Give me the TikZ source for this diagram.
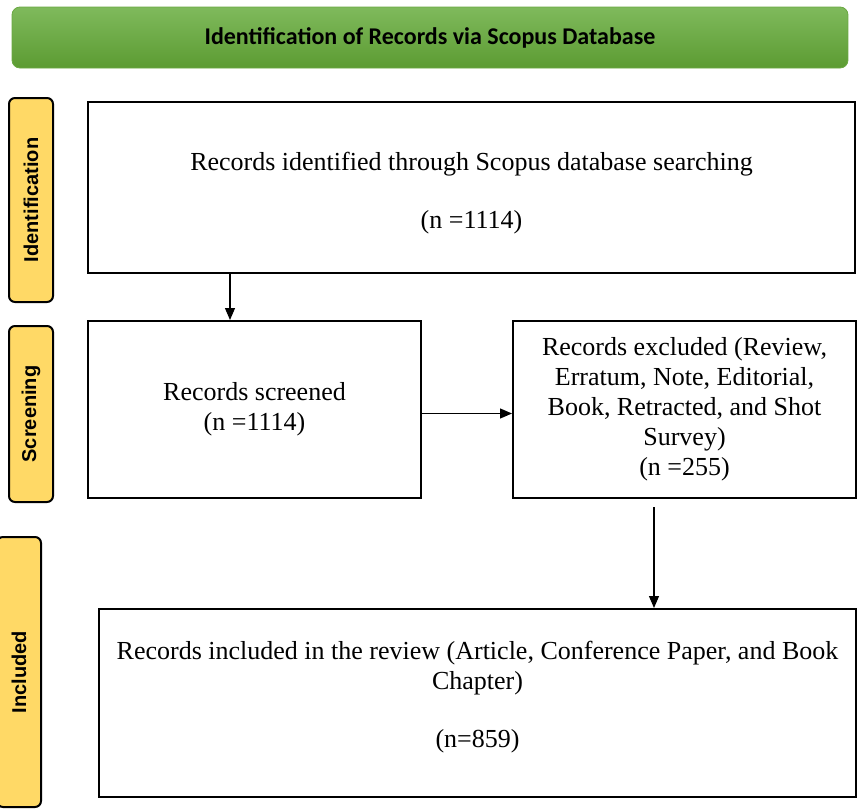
\documentclass[tikz,border=0pt]{standalone}
\usepackage{fontspec}
\setmainfont{Liberation Serif}
\setsansfont{Liberation Sans}
\newfontfamily\hdrfont{Carlito}
\usepackage{tikz}
\usetikzlibrary{arrows.meta,positioning}
\definecolor{colorhdrtop}{HTML}{7FBA5C}
\definecolor{colorhdrbot}{HTML}{5C9B32}
\definecolor{colorhdrline}{HTML}{6AA842}
\definecolor{colorphase}{HTML}{FFD966}
\tikzset{
  box/.style={draw, line width=1pt, align=center, inner sep=2pt,
    font=\fontsize{13}{15}\selectfont},
  phase/.style={draw, line width=1pt, rounded corners=3pt, fill=colorphase,
    rotate=90, minimum height=22pt, inner sep=0pt,
    font=\sffamily\bfseries\fontsize{10}{12}\selectfont},
  edgeflow/.style={black, line width=0.6pt, -{Triangle[length=6pt,width=5pt]}}
}
\begin{document}
\begin{tikzpicture}[x=0.5pt, y=-0.5pt]
\clip (0,0) rectangle (863,809);

\node[draw=colorhdrline, rounded corners=4pt, top color=colorhdrtop,
  bottom color=colorhdrbot, minimum width=418pt, minimum height=30.5pt,
  font=\hdrfont\bfseries\fontsize{12}{14}\selectfont](hdr) at (430,37.5)
{Identification of Records via Scopus Database};

\node[phase, minimum width=102pt](pid) at (31,200) {Identification};
\node[phase, minimum width=88pt](psc) at (31,414) {Screening};
\node[phase, minimum width=135pt](pin) at (19,672) {Included};

\node[box, minimum width=383.5pt, minimum height=85.5pt](ident) at (471.5,187.5)
{\rule{0pt}{15pt}Records identified through Scopus database searching\\[14pt] (n =1114)};

\node[box, minimum width=166.5pt, minimum height=88.5pt](scr) at (254.5,409.5)
{Records screened\\ (n =1114)};

\node[box, minimum width=171.5pt, minimum height=88.5pt](excl) at (684.5,409.5)
{Records excluded (Review,\\ Erratum, Note, Editorial,\\ Book, Retracted, and Shot\\ Survey)\\ (n =255)};

\node[box, minimum width=378.5pt, minimum height=94pt](incl) at (477.5,703)
{Records included in the review (Article, Conference Paper, and Book\\ Chapter)\\[14pt] (n=859)\\[-6pt]};

\draw[edgeflow] ([xshift=71.5pt]ident.south west) -- ([xshift=71.5pt]ident.south west |- scr.north);

\draw[edgeflow] ([yshift=-2pt]scr.east) -- ([yshift=-2pt]excl.west);

\draw[edgeflow] ([xshift=-15.25pt,yshift=-4pt]excl.south) -- ([xshift=-15.25pt]excl.south |- incl.north);
\end{tikzpicture}
\end{document}
